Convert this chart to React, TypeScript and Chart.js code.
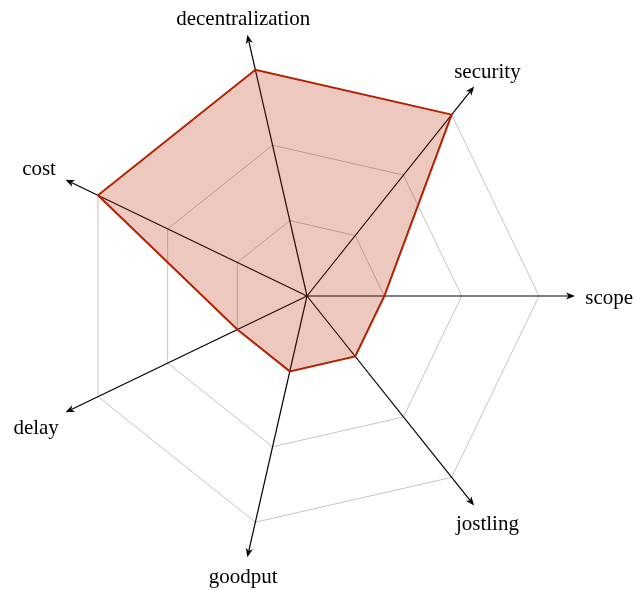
import React, { useEffect, useRef } from "react";
import { Chart, registerables } from "chart.js";

Chart.register(...registerables);

// Axes in counter-clockwise order starting from the right
const axes = ["scope", "security", "decentralization", "cost", "delay", "goodput", "jostling"];
const values = [1, 3, 3, 3, 1, 1, 1];
const scaleMax = 3;
const arrowValue = 3.466;
const labelValue = 3.56;

// Chart.js places categories clockwise, so reverse all but the first
const chartLabels = [axes[0], ...axes.slice(1).reverse()];
const chartValues = [values[0], ...values.slice(1).reverse()];

const LABEL_FONT = '21px "Liberation Serif"';

const axesPlugin = {
  id: "arrowAxes",
  beforeDatasetsDraw(chart: any) {
    const scale = chart.scales.r;
    const ctx = chart.ctx;
    const cx = scale.xCenter;
    const cy = scale.yCenter;
    ctx.save();
    ctx.strokeStyle = "#000";
    ctx.fillStyle = "#000";
    ctx.lineWidth = 1.2;
    chartLabels.forEach((_, i) => {
      const end = scale.getPointPositionForValue(i, arrowValue);
      const ang = Math.atan2(end.y - cy, end.x - cx);
      const L = 9;
      const hw = 3.6;
      const back = { x: end.x - Math.cos(ang) * L, y: end.y - Math.sin(ang) * L };
      const notch = { x: end.x - Math.cos(ang) * (L - 2.5), y: end.y - Math.sin(ang) * (L - 2.5) };
      ctx.beginPath();
      ctx.moveTo(cx, cy);
      ctx.lineTo(notch.x, notch.y);
      ctx.stroke();
      const px = -Math.sin(ang);
      const py = Math.cos(ang);
      ctx.beginPath();
      ctx.moveTo(end.x, end.y);
      ctx.lineTo(back.x + px * hw, back.y + py * hw);
      ctx.lineTo(notch.x, notch.y);
      ctx.lineTo(back.x - px * hw, back.y - py * hw);
      ctx.closePath();
      ctx.fill();
    });
    ctx.restore();
  },
  afterDatasetsDraw(chart: any) {
    const scale = chart.scales.r;
    const ctx = chart.ctx;
    const cx = scale.xCenter;
    const cy = scale.yCenter;
    ctx.save();
    ctx.font = LABEL_FONT;
    ctx.fillStyle = "#000";
    ctx.textAlign = "center";
    ctx.textBaseline = "middle";
    chartLabels.forEach((label, i) => {
      const p = scale.getPointPositionForValue(i, labelValue);
      const dx = p.x - cx;
      const dy = p.y - cy;
      const len = Math.hypot(dx, dy);
      const ux = dx / len;
      const uy = dy / len;
      const w = ctx.measureText(label).width;
      const hw = w / 2 + 3;
      const hh = 11;
      // point on rectangle border in direction of the axis
      const tx = Math.abs(ux) > 1e-6 ? hw / Math.abs(ux) : Infinity;
      const ty = Math.abs(uy) > 1e-6 ? hh / Math.abs(uy) : Infinity;
      const t = Math.min(tx, ty);
      ctx.fillText(label, p.x + ux * t, p.y + uy * t + 2.5);
    });
    ctx.restore();
  },
};

export default function App() {
  const ref = useRef<HTMLCanvasElement | null>(null);
  useEffect(() => {
    if (!ref.current) return;
    const chart = new Chart(ref.current, {
      type: "radar",
      data: {
        labels: chartLabels,
        datasets: [
          {
            data: chartValues,
            borderColor: "rgb(178, 34, 0)",
            backgroundColor: "rgba(178, 34, 0, 0.25)",
            borderWidth: 2,
            pointRadius: 0,
            pointHoverRadius: 0,
            tension: 0,
            fill: true,
          },
        ],
      },
      options: {
        responsive: false,
        animation: false,
        devicePixelRatio: 1,
        layout: { padding: { left: 75, right: 97, top: 64, bottom: 62 } },
        plugins: { legend: { display: false }, tooltip: { enabled: false } },
        scales: {
          r: {
            min: 0,
            max: scaleMax,
            startAngle: 90,
            ticks: { display: false, stepSize: 1 },
            grid: { color: "#c4c4c4", lineWidth: 1 },
            angleLines: { display: false },
            pointLabels: { display: false },
          },
        },
      },
      plugins: [axesPlugin],
    });
    return () => chart.destroy();
  }, []);
  return (
    <div style={{ position: "absolute", left: 0, top: 0, width: 636, height: 590, background: "#fff" }}>
      <canvas ref={ref} width={636} height={590} />
    </div>
  );
}
